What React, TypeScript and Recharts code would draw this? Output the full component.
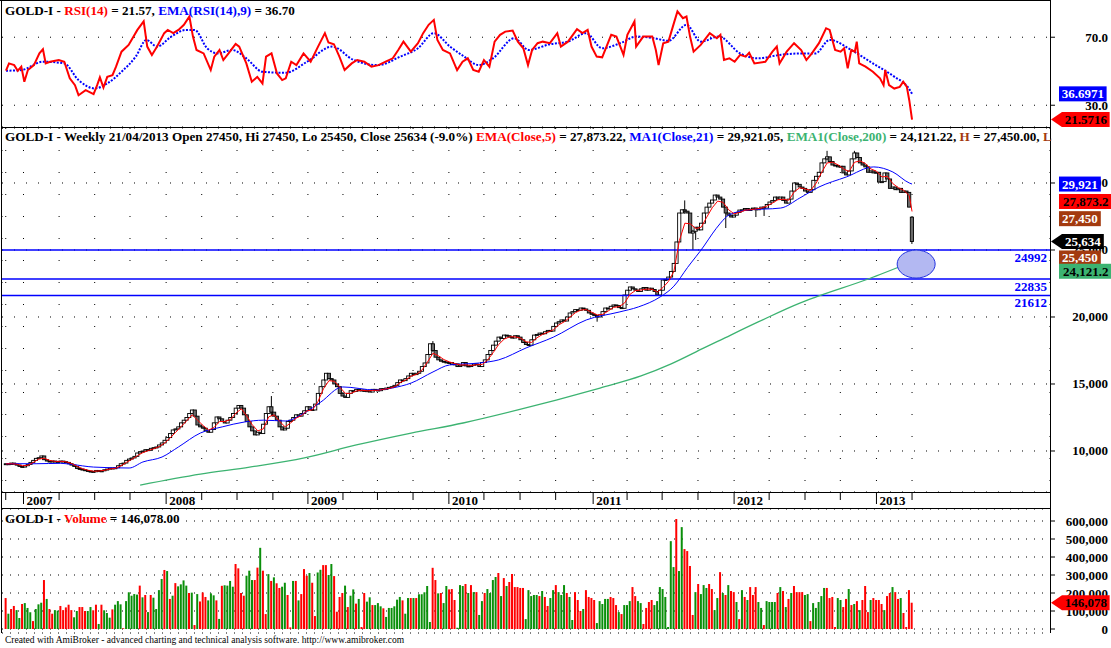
import React from "react";
import {
  Bar,
  CartesianGrid,
  Cell,
  ComposedChart,
  Line,
  ReferenceDot,
  ReferenceLine,
  XAxis,
  YAxis,
} from "recharts";

const SERIF = "'Liberation Serif', 'Times New Roman', serif";
const W = 1111;
const AXIS_W = 61;
// week index domain; week 0 = first bar (Nov 2006), week 331 = 21/04/2013
const X_DOMAIN: [number, number] = [-1.46, 381.4];

const RED = "#ff0000";
const BLUE = "#0000ff";
const GREEN = "#3cb371";
const BROWN = "#a33a0f";
const VOL_GREEN = "#0a8f0a";

// ---- weekly closes ----
const closes = [
  9050, 9000, 9100, 9020, 8950, 8850, 8800, 8900, 9000, 9150,
  9300, 9450, 9500, 9630, 9350, 9250, 9200, 9250, 9180, 9220,
  9250, 9200, 9150, 9050, 8950, 8850, 8700, 8650, 8600, 8550,
  8500, 8480, 8450, 8550, 8500, 8520, 8600, 8650, 8730, 8700,
  8750, 8900, 9050, 9100, 9300, 9400, 9480, 9600, 9850, 9950,
  10000, 10100, 10050, 10200, 10250, 10300, 10450, 10600, 10800, 11000,
  11300, 11570, 11650, 11800, 12100, 12300, 12500, 12800, 13060, 12600,
  11940, 11800, 11700, 11500, 11400, 11600, 12100, 12540, 12400, 12200,
  12090, 12300, 12500, 12800, 13200, 13400, 13200, 12700, 12200, 11800,
  11500, 11200, 11400, 11300, 12000, 12800, 13300, 12900, 12600, 12300,
  11800, 11570, 11700, 12200, 12300, 12500, 12700, 12600, 12800, 13000,
  13300, 13100, 13060, 13500, 14300, 14800, 15300, 15800, 15400, 15300,
  15000, 14800, 14300, 14100, 14000, 14300, 14500, 14450, 14600, 14500,
  14550, 14450, 14500, 14400, 14600, 14550, 14500, 14650, 14600, 14700,
  14750, 14800, 14900, 15100, 15300, 15250, 15400, 15600, 15800, 15700,
  15800, 15950, 16300, 16570, 17200, 18000, 17500, 17000, 16800, 16700,
  16650, 16570, 16600, 16450, 16500, 16300, 16400, 16600, 16350, 16300,
  16400, 16500, 16450, 16300, 16600, 16800, 17200, 17500, 17900, 18200,
  18500, 18400, 18650, 18600, 18500, 18430, 18600, 18500, 18300, 18100,
  17950, 17900, 18300, 18650, 18700, 18800, 18750, 18900, 19000, 18950,
  19300, 19550, 19650, 19780, 19700, 20000, 20300, 20400, 20550, 20500,
  20670, 20600, 20500, 20300, 20200, 20100, 20000, 20150, 20400, 20670,
  20600, 20800, 20900, 20850, 20700, 20650, 21640, 22000, 22240, 22100,
  22000, 21900, 22100, 22200, 22000, 22150, 22050, 21900, 21640, 22000,
  22760, 22800, 22980, 23400, 24000, 25600, 27760, 28000, 27900, 27760,
  26270, 26400, 26700, 26500, 27000, 27760, 28200, 28500, 28730, 29100,
  28950, 28800, 28200, 27760, 27600, 27460, 27600, 27800, 27980, 28000,
  28100, 27950, 28050, 28130, 28000, 28100, 28200, 28130, 28400, 28580,
  28700, 28950, 28800, 28950, 28700, 28500, 28800, 29400, 30000, 29900,
  29700, 29600, 29400, 29300, 29500, 30200, 30500, 30800, 31500, 31800,
  31950, 31600, 31340, 31300, 31200, 31250, 30750, 30600, 30900, 31800,
  32240, 31900, 31500, 31340, 31200, 30800, 30900, 30750, 30800, 30070,
  30100, 30750, 30300, 29600, 29700, 29500, 29600, 29300, 29400, 29300,
  28200, 25634,
];
const FIRST_OPEN = 9000;
// opens differ from the prior close only where a gap is visible
const OPEN_OVERRIDE: Record<number, number> = { 331: 27450 };
// visible wicks: [week, high, low]
const wicks: [number, number, number][] = [
  [97, 14100, 12600],
  [156, 18200, 17400],
  [216, 20150, 19650],
  [248, 28700, 27700],
  [251, 26500, 25000],
  [252, 26700, 25750],
  [263, 27900, 26640],
  [274, 28150, 27460],
  [277, 28250, 27540],
  [300, 32400, 31700],
  [310, 32400, 31800],
  [331, 27450, 25450],
];

// EMA(Close,5) sampled every 2 weeks, plus the final value
const EMA5_STEP = 2;
const ema5 = [
  9040, 9050, 9010, 8900, 8930, 9150, 9400, 9450, 9300, 9220,
  9230, 9190, 9060, 8850, 8680, 8560, 8490, 8510, 8560, 8660,
  8710, 8890, 9150, 9380, 9650, 9880, 10030, 10170, 10330, 10600,
  10980, 11400, 11820, 12250, 12700, 12300, 11900, 11560, 11750, 12200,
  12200, 12350, 12830, 13150, 12600, 11950, 11500, 11650, 12550, 12700,
  12200, 11800, 12100, 12450, 12650, 13000, 13080, 13700, 14650, 15250,
  15200, 14750, 14300, 14300, 14480, 14530, 14490, 14520, 14530, 14600,
  14670, 14800, 15100, 15300, 15580, 15720, 16050, 16650, 17300, 17100,
  16820, 16650, 16520, 16420, 16430, 16380, 16440, 16460, 16800, 17350,
  17950, 18350, 18520, 18520, 18420, 18150, 18100, 18450, 18700, 18870,
  19050, 19420, 19650, 19980, 20320, 20520, 20550, 20350, 20150, 20200,
  20450, 20720, 20770, 21050, 21700, 21980, 22010, 22080, 22070, 21860,
  22200, 22650, 23400, 25700, 27000, 26950, 26600, 26700, 27450, 28150,
  28650, 28550, 28000, 27700, 27800, 27970, 28010, 28060, 28130, 28280,
  28500, 28750, 28780, 28720, 29350, 29650, 29550, 29450, 30000, 30800,
  31500, 31550, 31350, 31050, 30850, 31550, 31650, 31450, 31050, 30880,
  30450, 30500, 29950, 29650, 29450, 29050,
];
const EMA5_LAST = 27873.22;

// MA(Close,21): [week, value]
const ma21: [number, number][] = [
  [0, 9050], [11, 9050], [20, 9080], [24, 9000], [32, 8800], [45, 8730], [50, 9180],
  [57, 9550], [63, 10300], [71, 11340], [79, 11800], [87, 12160], [94, 12300],
  [102, 12240], [109, 12840], [115, 13650], [123, 14780], [135, 14550], [141, 14700],
  [148, 15070], [156, 15900], [162, 16420], [173, 16570], [180, 16800], [190, 17690],
  [200, 18500], [212, 19780], [224, 20370], [231, 20750], [239, 21500], [244, 22300],
  [249, 23700], [255, 25300], [258, 26200], [261, 27000], [264, 27600], [271, 27980],
  [283, 28130], [290, 28880], [297, 29700], [307, 30450], [317, 31200], [324, 30820],
  [330, 30000], [331, 29921.05],
];

// EMA(Close,200): [week, value]
const ema200: [number, number][] = [
  [49, 7460], [71, 8280], [89, 8800], [109, 9480], [128, 10450], [148, 11340],
  [167, 12090], [187, 13060], [201, 13800], [217, 14700], [232, 15600], [243, 16500],
  [255, 17690], [261, 18280], [275, 19650], [290, 21040], [296, 21500], [315, 22835],
  [331, 24121.22],
];

const levels = [24992, 22835, 21612];

// ---- RSI(14) and EMA(RSI,9): [week, value] ----
const rsi: [number, number][] = [
  [0, 50.3], [1.1, 54.6], [3, 53.6], [4.3, 50.3], [5.6, 52.7], [6.7, 43.8], [8, 50.7], [10.2, 53.6], [12.2, 60.5], [13.5, 62.9],
  [14.5, 54.6], [16.1, 55.6], [19.3, 56.6], [21.3, 55.6], [23.3, 45.8], [25.2, 41.8], [26.5, 35.9], [29.1, 38.9], [32, 36.5], [33.3, 41.8],
  [34.3, 46.4], [35.6, 40.4], [37, 46.7], [38.9, 47.7], [40.2, 52.7], [42.2, 61.5], [44.8, 65.5], [48, 74.3], [50.3, 79.3], [51.6, 64.5],
  [53.3, 59.6], [55.2, 64.5], [57.8, 72.4], [59.1, 74.3], [61.1, 72.4], [63, 74.3], [65, 77.3], [67, 82.2], [68.3, 70.4], [69.6, 62.5],
  [72.2, 60.5], [74.8, 50.7], [76.1, 58.6], [78, 62.5], [79.4, 56.6], [81.3, 60.5], [83.9, 66.1], [85.2, 64.5], [87.8, 54.6], [89.8, 43.8],
  [91.8, 46.7], [93.7, 42.8], [95, 58.6], [97, 60.5], [99, 48.7], [100.9, 44.8], [102.2, 45.8], [104.2, 55.6], [106.1, 53.6], [108.7, 60.5],
  [111.3, 55.6], [114, 64.5], [116.5, 72.4], [117.8, 66.9], [119.8, 65.9], [121.8, 58.6], [123.7, 50.7], [126.3, 54.6], [128.3, 56.6], [130.9, 55.6],
  [133.5, 52.7], [136.1, 53.6], [138.7, 55.6], [141.3, 57.6], [143.3, 62.5], [145.2, 67.4], [147.9, 61.5], [150.5, 66.5], [152.4, 72.4], [154.4, 77.3],
  [156.3, 80.2], [157.6, 68.4], [159.6, 62.5], [162.2, 60.5], [164.8, 50.7], [166.8, 55.6], [168.7, 57.6], [170.7, 50.7], [172.7, 49.7], [174.6, 56.6],
  [176.6, 52.7], [178.5, 67.4], [180.5, 71.4], [182.4, 73.3], [185.1, 73.9], [187, 67.4], [189, 63.5], [190.7, 53.6], [192.2, 62.5], [194.2, 66.5],
  [196.1, 67.4], [198.7, 66.5], [201.4, 72.4], [202.7, 64.5], [205.3, 67.4], [208.6, 74.7], [210.6, 72.4], [212.5, 74.3], [213.9, 64.5], [215.8, 58.6],
  [217.8, 58.2], [221.1, 71.4], [223, 70.4], [225.6, 59.6], [227, 71.4], [229.6, 79.3], [230.2, 64.5], [232.8, 70.4], [236.1, 70.4], [237.4, 62.5],
  [238.4, 53.6], [240.1, 66.5], [242, 67.4], [244, 78.3], [245.3, 85.2], [247.3, 81.2], [248.6, 82.2], [249.9, 70.4], [251.2, 61.5], [253.8, 65.5],
  [257.1, 72.4], [259.7, 69.4], [261, 71.4], [262.3, 56.6], [264.3, 57.6], [266.2, 55.6], [268.2, 59.6], [270.2, 58.6], [271.5, 60.9], [273.4, 54.6],
  [277.4, 55.6], [280, 61.5], [281.6, 64.5], [282.6, 54.6], [285.2, 61.5], [287.9, 66.5], [290.5, 62.5], [292.4, 56.6], [294.4, 60.5], [297, 66.5],
  [299.6, 75.3], [300.9, 74.3], [302.9, 62.5], [304.9, 61.5], [306.2, 63.5], [307.5, 51.7], [308.8, 62.5], [310.1, 61.5], [310.8, 67.4], [311.7, 54.6],
  [314, 52.7], [316.7, 49.7], [319.3, 45.8], [320.6, 41.8], [321.2, 50.7], [322.6, 41.8], [324.5, 39.8], [326.5, 40.8], [327.8, 43.8], [329.1, 40.8],
  [330, 32.8], [331, 21.5716],
];
const rsiEma: [number, number][] = [
  [0, 50.3], [5.6, 50.7], [13.5, 55.6], [21.3, 54.6], [26.5, 44.8], [32.4, 39.9], [37, 42.8], [42.2, 49.7], [47.4, 58.6], [51.3, 68.4],
  [55.2, 64.5], [60.4, 70.4], [65.7, 74.3], [68.9, 74.3], [73.5, 63.5], [77.4, 60.5], [82.6, 62.5], [87.8, 57.6], [93.7, 49.7], [102.2, 49.1],
  [110, 55.6], [119.2, 64.5], [127, 56.6], [136.1, 53.6], [144, 58.6], [150.5, 63.5], [156.3, 72.4], [162.2, 64.5], [167.4, 58.6], [172.7, 53.6],
  [177.9, 57.6], [185.7, 69.4], [191, 62.5], [198.7, 65.9], [205.3, 67.4], [211.9, 72.4], [217.8, 63.5], [225, 66.9], [230.2, 70.4], [236.8, 69.4],
  [242, 67.9], [248.6, 77.3], [253.8, 67.4], [260.4, 70.4], [268.2, 60.5], [274.8, 57.6], [282.6, 59.6], [290.5, 60.5], [295.7, 60.5], [300.9, 68.4],
  [308.8, 62.5], [316.7, 54.6], [324.5, 46.8], [329.8, 39.9], [331, 36.6971],
];

// ---- weekly volume (thousands) and bar direction (G up / R down) ----
const volume = [
  172, 85, 111, 128, 105, 61, 139, 144, 117, 93,
  44, 111, 137, 146, 272, 167, 111, 85, 105, 102,
  128, 105, 120, 135, 105, 65, 100, 122, 122, 100,
  100, 122, 104, 135, 28, 135, 104, 89, 63, 109,
  135, 155, 137, 4, 155, 204, 185, 194, 191, 241,
  176, 189, 94, 189, 174, 111, 216, 278, 328, 322,
  167, 185, 255, 237, 248, 270, 241, 200, 202, 22,
  194, 153, 203, 178, 159, 198, 187, 159, 56, 240,
  243, 241, 267, 235, 361, 337, 200, 185, 296, 324,
  272, 272, 341, 451, 324, 83, 305, 267, 287, 254,
  228, 235, 257, 189, 9, 267, 267, 159, 194, 333,
  296, 311, 257, 72, 314, 329, 355, 355, 300, 361,
  294, 96, 178, 200, 241, 122, 185, 220, 141, 167,
  11, 200, 152, 176, 133, 133, 144, 126, 115, 67,
  117, 117, 126, 163, 178, 159, 85, 172, 172, 172,
  172, 193, 193, 204, 239, 39, 340, 272, 198, 200,
  144, 239, 220,
  222, 161, 7, 244, 239, 250, 200, 244, 205, 205,
  78, 155, 200, 222, 200, 272, 289, 311, 183, 283,
  239, 261, 305, 233, 233, 228, 228, 55, 216, 183,
  189, 189, 183, 211, 178, 128, 172, 216, 244, 205,
  189, 244, 200, 178, 50, 205, 161, 100, 111, 216,
  178, 172, 161, 33, 155, 139, 167, 167, 178, 172,
  133, 94, 83, 133, 133, 155, 233, 183, 155, 144,
  28, 117, 150, 161, 133, 155, 233, 222, 178, 11,
  488, 344, 611, 322, 566, 444, 433, 350, 78, 205,
  250, 194, 244, 228, 250, 222, 105, 172, 316, 200,
  189, 244, 211, 205, 150, 55, 216, 178, 161, 233,
  189, 233, 150, 117, 22, 155, 150, 150, 150, 200,
  233, 211, 122, 167, 200, 239, 205, 205, 205, 189,
  194, 44, 144, 117, 150, 183, 228, 228, 172, 178,
  11, 172, 161, 122, 167, 222, 133, 139, 155, 105,
  161, 239, 94, 161, 172, 161, 161, 139, 105, 183,
  200, 233, 205, 167, 172, 89, 11, 216, 146.078,
];
const volDir =
  "RGRRGGRGGG" + "RGGGRGRRGG" + "RRRRRGGRRR" + "GGRRGRGGGR" + "GGGRGGGGGR" +
  "GRGRGGGGRG" + "RGRGGGGRGR" + "GRRRGGGRGR" + "GGGGRRRRGG" + "GRRGRRGRGR" +
  "RGGRRGRGRR" + "RGRRGGRRGG" + "RRRRGRGGRG" + "RRGGRGGGRG" + "GGGGGRGGRG" +
  "RGGGGGRRGR" + "GGR" +
  "RRGGGRGRGR" + "GGRGGGGRGR" + "GRRRRRRGGG" + "GGRGRRGGRG" + "GGRGGRRRGR" +
  "RRRGGGGGRR" + "RGRGGGRRGG" + "RRRRGGGGGG" + "GGRGGRRRRG" + "RGGGRRGGRG" +
  "RGRRGRGRGR" + "RRGGRGGGGR" + "GRGRGRRRRG" + "GRGGGGGRRR" + "RGGRRGRGRG" +
  "RRRGRRRRGR" + "RGRRGRRRR";

// ---- time axis: quarter ticks and year labels (week index) ----
const quarterTicks = [
  -0.1, 6.4, 19.4, 32.4, 45.3, 58.5, 71.5, 84.4, 97.5, 110.3, 123.1, 135.7, 148.7,
  161.8, 174.6, 187.8, 200.8, 214.5, 226.9, 239.7, 252.8, 266, 278.8, 291.9, 304.8, 318, 331,
];
const yearTicks: [number, string][] = [
  [6.4, "2007"], [58.5, "2008"], [110.3, "2009"], [161.8, "2010"],
  [214.5, "2011"], [266, "2012"], [318, "2013"],
];

// ---- rows for the library ----
type PriceRow = {
  w: number; open: number; close: number; low: number; high: number;
  ema5?: number; ma21?: number; ema200?: number;
};
const wickMap = new Map(wicks.map(([w, h, l]) => [w, { h, l }]));
const priceRows: PriceRow[] = closes.map((close, w) => {
  const open = OPEN_OVERRIDE[w] ?? (w === 0 ? FIRST_OPEN : closes[w - 1]);
  const wk = wickMap.get(w);
  const low = Math.min(open, close, wk ? wk.l : Infinity);
  const high = Math.max(open, close, wk ? wk.h : -Infinity);
  return { w, open, close, low, high: Math.max(high, low + 1) };
});
ema5.forEach((v, k) => { priceRows[k * EMA5_STEP].ema5 = v; });
priceRows[priceRows.length - 1].ema5 = EMA5_LAST;
ma21.forEach(([w, v]) => { priceRows[w].ma21 = v; });
ema200.forEach(([w, v]) => { priceRows[w].ema200 = v; });

const rsiRows = [
  ...rsi.map(([w, v]) => ({ w, rsi: v })),
  ...rsiEma.map(([w, v]) => ({ w, ema: v })),
].sort((a, b) => a.w - b.w);

const volRows = volume.map((v, w) => ({ w, vol: v * 1000, up: volDir[w] === "G" }));

// ---- drawing helpers ----
const txt = { fontFamily: SERIF, fontWeight: 700, fontSize: 13 } as const;

function Candle(props: any) {
  const { x, y, width, height, payload } = props;
  const { open, close, high, low } = payload as PriceRow;
  const span = high - low;
  const py = (v: number) => (span > 0 ? y + ((high - v) / span) * height : y);
  const cx = x + width / 2;
  const top = py(Math.max(open, close));
  const bot = py(Math.min(open, close));
  return (
    <g>
      <line x1={cx} x2={cx} y1={y} y2={y + height} stroke="#000" strokeWidth={1} />
      <rect
        x={cx - 1.6}
        y={top}
        width={3.2}
        height={Math.max(bot - top, 1)}
        fill={close >= open ? "#fff" : "#6a6a6a"}
        stroke="#000"
        strokeWidth={0.9}
      />
    </g>
  );
}

type Badge = { value: number; text: string; fill: string; ink: string; arrow?: boolean; nudge?: number };

function badgeShape(b: Badge) {
  return (p: any) => {
    const cy = p.cy + (b.nudge ?? 0);
    const left = p.cx + (b.arrow ? 12 : 9);
    const w = b.text.length * 5.8 + 7;
    return (
      <g>
        {b.arrow ? (
          <polygon
            points={`${p.cx + 1},${cy} ${left},${cy - 7.5} ${left + w},${cy - 7.5} ${left + w},${cy + 7.5} ${left},${cy + 7.5}`}
            fill={b.fill}
          />
        ) : (
          <rect x={left} y={cy - 7.5} width={w} height={15} fill={b.fill} />
        )}
        <text x={left + w / 2} y={cy + 4.5} textAnchor="middle" fill={b.ink} {...txt}>
          {b.text}
        </text>
      </g>
    );
  };
}

const rightTick = (fmt: (v: number) => string) => (p: any) => (
  <text x={W - 3} y={p.y + 4.5} textAnchor="end" fill="#000" {...txt}>
    {fmt(p.payload.value)}
  </text>
);

const yearAt = new Map(yearTicks);
function TimeTick(p: any) {
  const label = yearAt.get(p.payload.value);
  return (
    <g>
      <line x1={p.x} x2={p.x} y1={p.y} y2={p.y + (label ? 12 : 8)} stroke="#000" />
      {label && (
        <text x={p.x + 3} y={p.y + 13} fill="#000" {...txt}>
          {label}
        </text>
      )}
    </g>
  );
}

const levelLabel = (text: string) => (p: any) => {
  const vb = p.viewBox;
  return (
    <text x={vb.x + vb.width - 3} y={vb.y + 12} textAnchor="end" fill={BLUE} {...txt}>
      {text}
    </text>
  );
};

const priceBadges: Badge[] = [
  { value: 29921.05, text: "29,921", fill: BLUE, ink: "#fff" },
  { value: 27873.22, text: "27,873.2", fill: RED, ink: "#000", nudge: -10 },
  { value: 27450, text: "27,450", fill: BROWN, ink: "#fff", nudge: 1.5 },
  { value: 25634, text: "25,634", fill: "#000", ink: "#fff", arrow: true },
  { value: 25450, text: "25,450", fill: BROWN, ink: "#fff", nudge: 14 },
  { value: 24121.22, text: "24,121.2", fill: GREEN, ink: "#000", nudge: 9.5 },
];
const rsiBadges: Badge[] = [
  { value: 36.6971, text: "36.6971", fill: BLUE, ink: "#fff" },
  { value: 21.5716, text: "21.5716", fill: RED, ink: "#000", arrow: true },
];
const volBadges: Badge[] = [{ value: 146078, text: "146,078", fill: RED, ink: "#000", arrow: true }];

const RSI_DOMAIN: [number, number] = [17.2, 91.9];
const PRICE_DOMAIN: [number, number] = [6940, 34104];
const VOL_DOMAIN: [number, number] = [-22222, 666667];

const ELLIPSE = { w: 332.5, price: 23950 };

// last-value tags sit above the axis labels, so they get their own layer
function BadgeLayer({ top, height, domain, badges }: {
  top: number; height: number; domain: [number, number]; badges: Badge[];
}) {
  return (
    <div style={{ position: "absolute", left: 0, top }}>
      <ComposedChart width={W} height={height} data={[{ w: 0 }, { w: 331 }]}
        margin={{ top: 0, right: AXIS_W, bottom: 0, left: 2 }} style={{ overflow: "visible" }}>
        <XAxis type="number" dataKey="w" domain={X_DOMAIN} allowDataOverflow hide />
        <YAxis type="number" domain={domain} allowDataOverflow hide />
        {badges.map((b) => (
          <ReferenceDot key={b.text} x={X_DOMAIN[1]} y={b.value} ifOverflow="visible" shape={badgeShape(b)} />
        ))}
      </ComposedChart>
    </div>
  );
}

const hLine = (top: number): React.CSSProperties => ({
  position: "absolute", left: 1, top, width: 1050, height: 1, background: "#000",
});

function Title({ top, parts }: { top: number; parts: [string, string][] }) {
  return (
    <div
      style={{
        position: "absolute", left: 5, top, width: 1045, whiteSpace: "nowrap",
        fontFamily: SERIF, fontWeight: 700, fontSize: 13.15, lineHeight: "15px",
      }}
    >
      {parts.map(([t, c], i) => (
        <span key={i} style={{ color: c }}>{t}</span>
      ))}
    </div>
  );
}

export default function App() {
  const margin = { top: 0, right: 0, bottom: 0, left: 2 };
  return (
    <div style={{ position: "relative", width: W, height: 648, background: "#fff", overflow: "hidden" }}>
      <style>{"body{margin:0}"}</style>

      {/* RSI panel */}
      <div style={{ position: "absolute", left: 0, top: 0 }}>
        <ComposedChart width={W} height={127} data={rsiRows} margin={margin}>
          <CartesianGrid vertical={false} stroke="#000" strokeDasharray="1 11" />
          <XAxis type="number" dataKey="w" domain={X_DOMAIN} allowDataOverflow hide />
          <YAxis
            orientation="right" width={AXIS_W} type="number" domain={RSI_DOMAIN} allowDataOverflow
            ticks={[30, 70]} interval={0} axisLine={false} tickSize={5} tickLine={{ stroke: "#000" }}
            tick={rightTick((v) => v.toFixed(1))}
          />
          <Line dataKey="ema" type="monotone" stroke={BLUE} strokeWidth={2} strokeDasharray="2 1.5"
            dot={false} activeDot={false} connectNulls isAnimationActive={false} />
          <Line dataKey="rsi" type="linear" stroke={RED} strokeWidth={2}
            dot={false} activeDot={false} connectNulls isAnimationActive={false} />
        </ComposedChart>
      </div>

      {/* price panel */}
      <div style={{ position: "absolute", left: 0, top: 128 }}>
        <ComposedChart width={W} height={380} data={priceRows} margin={margin}>
          <CartesianGrid vertical={false} stroke="#000" strokeDasharray="1 11" />
          <CartesianGrid horizontal={false} stroke="#000" strokeDasharray="1 21" />
          <XAxis
            type="number" dataKey="w" domain={X_DOMAIN} allowDataOverflow ticks={quarterTicks}
            interval={0} height={16} axisLine={false} tickLine={false} tickSize={0} tickMargin={0}
            tick={<TimeTick />}
          />
          <YAxis
            orientation="right" width={AXIS_W} type="number" domain={PRICE_DOMAIN} allowDataOverflow
            ticks={[10000, 15000, 20000, 25000, 30000]} interval={0} axisLine={false} tickSize={5}
            tickLine={{ stroke: "#000" }} tick={rightTick((v) => v.toLocaleString("en-US"))}
          />
          <ReferenceDot
            x={ELLIPSE.w} y={ELLIPSE.price} ifOverflow="visible"
            shape={(p: any) => (
              <ellipse cx={p.cx} cy={p.cy} rx={19} ry={14} fill="#b3b8f2" stroke="#2030e0" strokeWidth={1} />
            )}
          />
          {levels.map((v) => (
            <ReferenceLine key={v} y={v} stroke={BLUE} strokeWidth={1.5} label={levelLabel(String(v))} />
          ))}
          <Bar dataKey={(r: PriceRow) => [r.low, r.high]} barSize={3} shape={<Candle />} isAnimationActive={false} />
          <Line dataKey="ema200" type="monotone" stroke={GREEN} strokeWidth={1.3}
            dot={false} activeDot={false} connectNulls isAnimationActive={false} />
          <Line dataKey="ma21" type="monotone" stroke={BLUE} strokeWidth={1}
            dot={false} activeDot={false} connectNulls isAnimationActive={false} />
          <Line dataKey="ema5" type="linear" stroke={RED} strokeWidth={1}
            dot={false} activeDot={false} connectNulls isAnimationActive={false} />
        </ComposedChart>
      </div>

      {/* volume panel */}
      <div style={{ position: "absolute", left: 0, top: 509 }}>
        <ComposedChart width={W} height={130} data={volRows} margin={{ ...margin, bottom: 6 }}>
          <CartesianGrid vertical={false} stroke="#000" strokeDasharray="1 7" />
          <XAxis type="number" dataKey="w" domain={X_DOMAIN} allowDataOverflow hide />
          <YAxis
            orientation="right" width={AXIS_W} type="number" domain={VOL_DOMAIN} allowDataOverflow
            ticks={[0, 100000, 200000, 300000, 400000, 500000, 600000]} interval={0} axisLine={false}
            tickSize={5} tickLine={{ stroke: "#000" }} tick={rightTick((v) => v.toLocaleString("en-US"))}
          />
          <Bar dataKey="vol" barSize={2} isAnimationActive={false}>
            {volRows.map((r) => (
              <Cell key={r.w} fill={r.up ? VOL_GREEN : RED} />
            ))}
          </Bar>
        </ComposedChart>
      </div>

      {/* frame */}
      <div style={{ ...hLine(0), left: 0 }} />
      <div style={hLine(127)} />
      <div style={hLine(492)} />
      <div style={hLine(508)} />
      <div style={{ position: "absolute", left: 1, top: 0, width: 1, height: 633, background: "#000" }} />
      <div style={{ position: "absolute", left: 1050, top: 0, width: 1, height: 633, background: "#000" }} />

      <BadgeLayer top={0} height={127} domain={RSI_DOMAIN} badges={rsiBadges} />
      <BadgeLayer top={128} height={364} domain={PRICE_DOMAIN} badges={priceBadges} />
      <BadgeLayer top={509} height={124} domain={VOL_DOMAIN} badges={volBadges} />

      <Title
        top={3}
        parts={[
          ["GOLD-I - ", "#000"], ["RSI(14)", RED], [" = 21.57, ", "#000"],
          ["EMA(RSI(14),9)", BLUE], [" = 36.70", "#000"],
        ]}
      />
      <Title
        top={129}
        parts={[
          ["GOLD-I - Weekly 21/04/2013 Open 27450, Hi 27450, Lo 25450, Close 25634 (-9.0%) ", "#000"],
          ["EMA(Close,5)", RED], [" = 27,873.22, ", "#000"],
          ["MA1(Close,21)", BLUE], [" = 29,921.05, ", "#000"],
          ["EMA1(Close,200)", GREEN], [" = 24,121.22, ", "#000"],
          ["H", BROWN], [" = 27,450.00, ", "#000"], ["L", BROWN],
        ]}
      />
      <Title
        top={511}
        parts={[["GOLD-I - ", "#000"], ["Volume", RED], [" = 146,078.00", "#000"]]}
      />
      <div
        style={{
          position: "absolute", left: 5, top: 635, fontFamily: SERIF, fontSize: 9.5,
          whiteSpace: "nowrap", color: "#000",
        }}
      >
        Created with AmiBroker - advanced charting and technical analysis software. http://www.amibroker.com
      </div>
    </div>
  );
}
